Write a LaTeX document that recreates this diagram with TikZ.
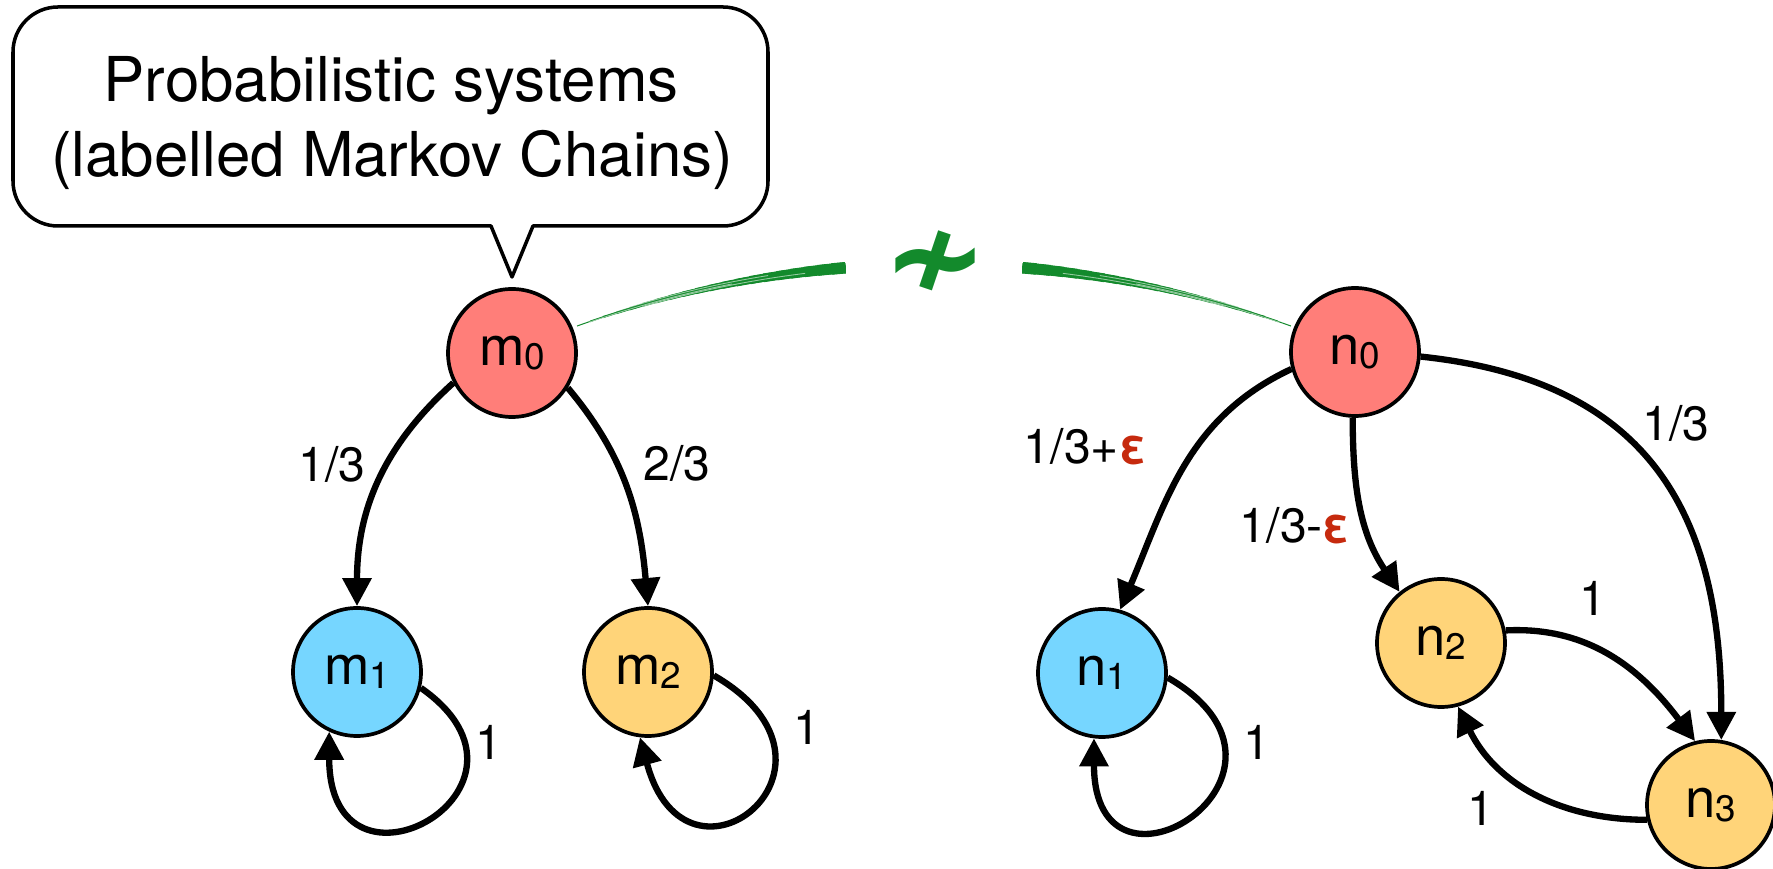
\documentclass[tikz,border=0pt]{standalone}
\usepackage{fontspec}
\setmainfont{TeX Gyre Heros}
\newfontfamily\symfont{DejaVu Sans}
\usetikzlibrary{arrows.meta}
\definecolor{salmon}{HTML}{FF7E79}
\definecolor{sky}{HTML}{76D6FF}
\definecolor{cantaloupe}{HTML}{FFD479}
\definecolor{brushgreen}{HTML}{138A2C}
\definecolor{epsred}{HTML}{C62A0E}
% state name with a small, slightly lowered index
\newcommand\statelbl[2]{#1\raisebox{-1pt}{\fontsize{10.5}{12}\selectfont #2}}
\newcommand\eps{\textcolor{epsred}{\textbf{ε}}}
\begin{document}
\begin{tikzpicture}[x=0.1mm, y=0.1mm,
  state/.style={circle, draw=black, line width=1.05pt, minimum size=12.8mm,
    inner sep=0pt, font=\fontsize{15.5}{18}\selectfont},
  trans/.style={line width=1.8pt, -{Triangle[length=8pt,width=8pt]}},
  prob/.style={font=\fontsize{13.7}{16}\selectfont, inner sep=0pt},
  bubble/.style={fill=white, draw=black, line width=1pt, line join=round},
  bubbletext/.style={font=\fontsize{17.6}{21}\selectfont, inner sep=0pt, anchor=base},
  brush/.style={brushgreen, line cap=butt},
]
\useasboundingbox (0,0) rectangle (1773,-869);

% speech bubble
\draw[bubble] (491,-226) -- (512,-277) -- (533,-226) -- (723,-226)
  arc[start angle=-90,end angle=0,radius=4.5mm] -- (768,-52)
  arc[start angle=0,end angle=90,radius=4.5mm] -- (58,-7)
  arc[start angle=90,end angle=180,radius=4.5mm] -- (13,-181)
  arc[start angle=180,end angle=270,radius=4.5mm] -- cycle;
\node[bubbletext] (title1) at (391,-102) {Probabilistic systems};
\node[bubbletext] (title2) at (392,-177) {(labelled Markov Chains)};

% states
\node[state, fill=salmon]     (m0) at (512,-353) {\statelbl{m}{0}};
\node[state, fill=sky]        (m1) at (357,-672) {\statelbl{m}{1}};
\node[state, fill=cantaloupe] (m2) at (648,-672) {\statelbl{m}{2}};
\node[state, fill=salmon]     (n0) at (1355,-352) {\statelbl{n}{0}};
\node[state, fill=sky]        (n1) at (1102,-673) {\statelbl{n}{1}};
\node[state, fill=cantaloupe] (n2) at (1441,-643) {\statelbl{n}{2}};
\node[state, fill=cantaloupe] (n3) at (1711,-805) {\statelbl{n}{3}};

% transitions of the first chain
\draw[trans] (m0.-153) to[out=-138, in=90] (m1.north);
\draw[trans] (m0.-32) to[out=-50, in=95] (m2.north);
\draw[trans] (m1.-14) to[out=-35, in=-90, out distance=17.5mm, in distance=18.5mm] (m1.-115);
\draw[trans] (m2.-3) to[out=-30, in=-75, out distance=18mm, in distance=18mm] (m2.-97);

% transitions of the second chain
\draw[trans] (n0.-165) to[out=-155, in=67] (n1.74);
\draw[trans] (n0.-92) to[out=-90, in=124] (n2.129);
\draw[trans] (n0.-4) to[out=-6, in=90, looseness=1.2] (n3.81);
\draw[trans] (n2.11) to[out=3, in=127] (n3.104);
\draw[trans] (n3.-167) to[out=180, in=-64] (n2.-75);
\draw[trans] (n1.-4) to[out=-30, in=-90, out distance=19mm, in distance=18.5mm] (n1.-97);

% probabilities
\node[prob] (p1)  at (332,-464)  {1/3};
\node[prob] (p2)  at (677,-463)  {2/3};
\node[prob] (p3)  at (489,-742)  {1};
\node[prob] (p4)  at (807,-727)  {1};
\node[prob] (p5)  at (1085,-447) {1/3+\eps};
\node[prob] (p6)  at (1295,-526) {1/3-\eps};
\node[prob] (p7)  at (1676,-423) {1/3};
\node[prob] (p8)  at (1593,-598) {1};
\node[prob] (p9)  at (1481,-808) {1};
\node[prob] (p10) at (1257,-742) {1};

% brush stroke between the two initial states, tapering towards them
\coordinate (arcc) at (934,-1323);
\foreach \k in {1,...,20}{
  \pgfmathsetmacro\w{(11.5-10.5*(\k-1)/19)*0.2845}
  \pgfmathsetmacro\ea{94.8+14.9*\k/20}
  \pgfmathsetmacro\eb{85.2-14.9*\k/20}
  \draw[brush, line width=\w pt] (arcc) ++(94.8:105.9mm)
    arc[start angle=94.8, end angle=\ea, radius=105.9mm];
  \draw[brush, line width=\w pt] (arcc) ++(85.2:105.9mm)
    arc[start angle=85.2, end angle=\eb, radius=105.9mm];
}
% dry-brush streaks
\foreach \r/\a/\b in {105.75/97/106, 106.05/99/108, 105.85/101/109,
                      105.75/83/74, 106.05/81/72, 105.85/79/71}{
  \draw[white, opacity=0.55, line width=0.25pt] (arcc) ++(\a:\r mm)
    arc[start angle=\a, end angle=\b, radius=\r mm];
}
\node[text=brushgreen, inner sep=0pt, font=\symfont\bfseries\fontsize{36}{36}\selectfont]
  (nbisim) at (935,-266) {≁};
\end{tikzpicture}
\end{document}
